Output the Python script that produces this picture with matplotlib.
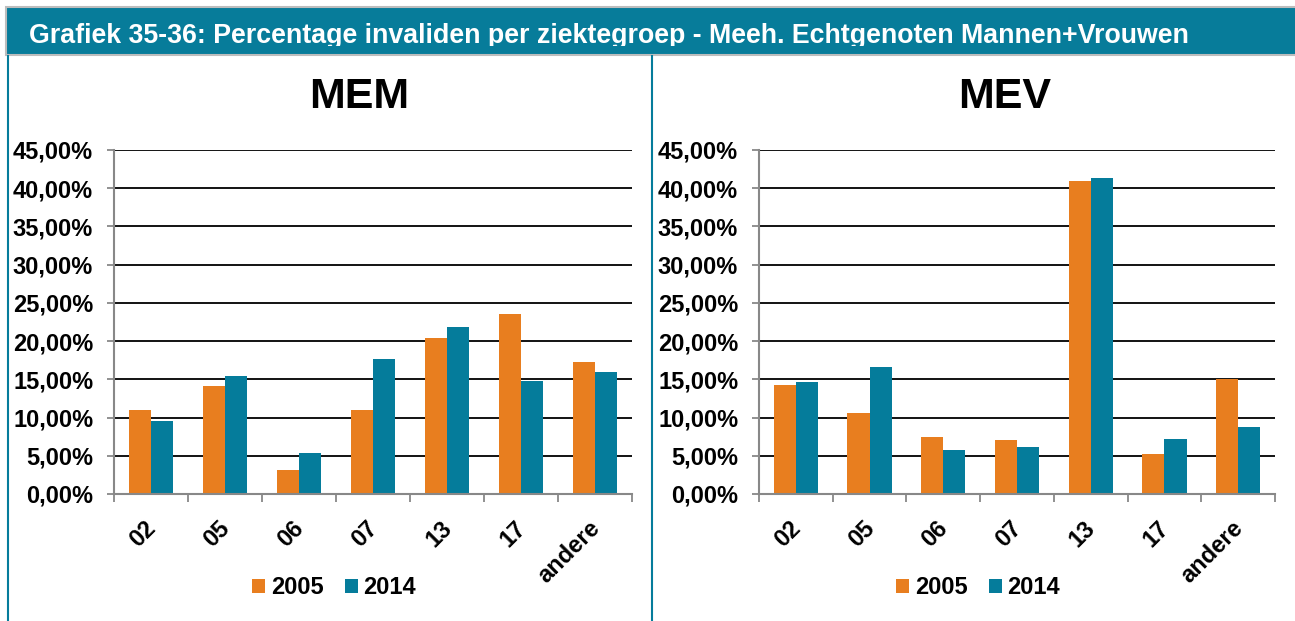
import numpy as np
import matplotlib.pyplot as plt
from matplotlib.patches import Rectangle
from matplotlib.ticker import FuncFormatter, MultipleLocator
from matplotlib.transforms import Bbox, ScaledTranslation

plt.rcParams['font.family'] = ['Liberation Sans', 'DejaVu Sans']
plt.rcParams['font.weight'] = 'bold'

groups = ["02", "05", "06", "07", "13", "17", "andere"]
mem_2005 = [11.0, 14.1, 3.2, 11.0, 20.4, 23.5, 17.3]
mem_2014 = [9.5, 15.4, 5.3, 17.7, 21.8, 14.8, 15.9]
mev_2005 = [14.2, 10.6, 7.5, 7.1, 40.9, 5.2, 15.0]
mev_2014 = [14.6, 16.6, 5.7, 6.2, 41.4, 7.2, 8.7]

ORANGE = "#E87E1F"
TEAL = "#057C9B"
GRID = "#888888"

W, H = 1295, 621
fig = plt.figure(figsize=(W / 100, H / 100), dpi=100)


def px(x, y, w=0, h=0):
    # pixel box (top-left origin) -> figure fraction
    return [x / W, 1 - (y + h) / H, w / W, h / H]


# header band
l, b, w, h = px(6, 7, 1295, 48)
fig.add_artist(Rectangle((l, b), w, h, transform=fig.transFigure,
                         facecolor="#077C9A", edgecolor="#BDBDBD", lw=1.5))
head = fig.text(29 / W, 1 - 43 / H,
                "Grafiek 35-36: Percentage invaliden per ziektegroep - Meeh. Echtgenoten Mannen+Vrouwen",
                color="white", fontsize=19.25, fontweight="bold", va="baseline", ha="left")
# descenders are cut off just below the baseline
head.set_clip_box(Bbox.from_extents(0, H - 46, W, H))
head.set_clip_on(True)

# panel separators
for xp in (8, 652):
    fig.add_artist(plt.Line2D([xp / W, xp / W], [0, 1 - 56 / H],
                              transform=fig.transFigure, color=TEAL, lw=1.5))


def fmt_pct(v, pos):
    return f"{v:.2f}%".replace(".", ",")


def panel(left_px, width_px, title, title_x, y05, y14, leg_x):
    ax = fig.add_axes(px(left_px, 150, width_px, 344))
    x = np.arange(len(groups))
    bw = 0.3
    b1 = ax.bar(x - bw / 2, y05, bw, color=ORANGE, label="2005", zorder=2)
    b2 = ax.bar(x + bw / 2, y14, bw, color=TEAL, label="2014", zorder=2)
    ax.set_ylim(0, 45)
    ax.set_xlim(-0.5, len(groups) - 0.5)
    ax.yaxis.set_major_locator(MultipleLocator(5))
    ax.yaxis.set_major_formatter(FuncFormatter(fmt_pct))
    ax.grid(axis="y", color="black", lw=1.3, zorder=0)
    ax.set_axisbelow(True)
    for s in ("top", "right"):
        ax.spines[s].set_visible(False)
    for s in ("left", "bottom"):
        ax.spines[s].set_color(GRID)
        ax.spines[s].set_linewidth(1.5)
    ax.tick_params(axis="y", length=5, width=1.3, color=GRID, pad=10,
                   labelsize=17)
    ax.set_xticks(x)
    ax.set_xticklabels(groups, rotation=45, ha="right", va="top",
                       rotation_mode="anchor", fontsize=17)
    ax.tick_params(axis="x", which="major", length=0, pad=14)
    ax.set_xticks(np.arange(len(groups) + 1) - 0.5, minor=True)
    ax.tick_params(axis="x", which="minor", length=6, width=1.3, color=GRID)
    shift = ScaledTranslation(-7 / 100, -3 / 100, fig.dpi_scale_trans)
    for lab in ax.get_xticklabels():
        lab.set_transform(lab.get_transform() + shift)
    for lab in ax.get_yticklabels() + ax.get_xticklabels():
        lab.set_fontweight("bold")

    fig.text(title_x / W, 1 - 97 / H, title, fontsize=31, fontweight="bold",
             ha="center", va="center")
    fig.legend(handles=[b1, b2], loc="center",
               bbox_to_anchor=(leg_x / W, 1 - 588 / H), ncol=2, frameon=False,
               prop={"size": 17, "weight": "bold"}, handlelength=0.55,
               handleheight=0.55, handletextpad=0.25, columnspacing=0.9,
               borderpad=0)
    return ax


panel(114, 518, "MEM", 359, mem_2005, mem_2014, 334)
panel(759, 516, "MEV", 1005, mev_2005, mev_2014, 978)

fig.savefig("out.png", dpi=100)
